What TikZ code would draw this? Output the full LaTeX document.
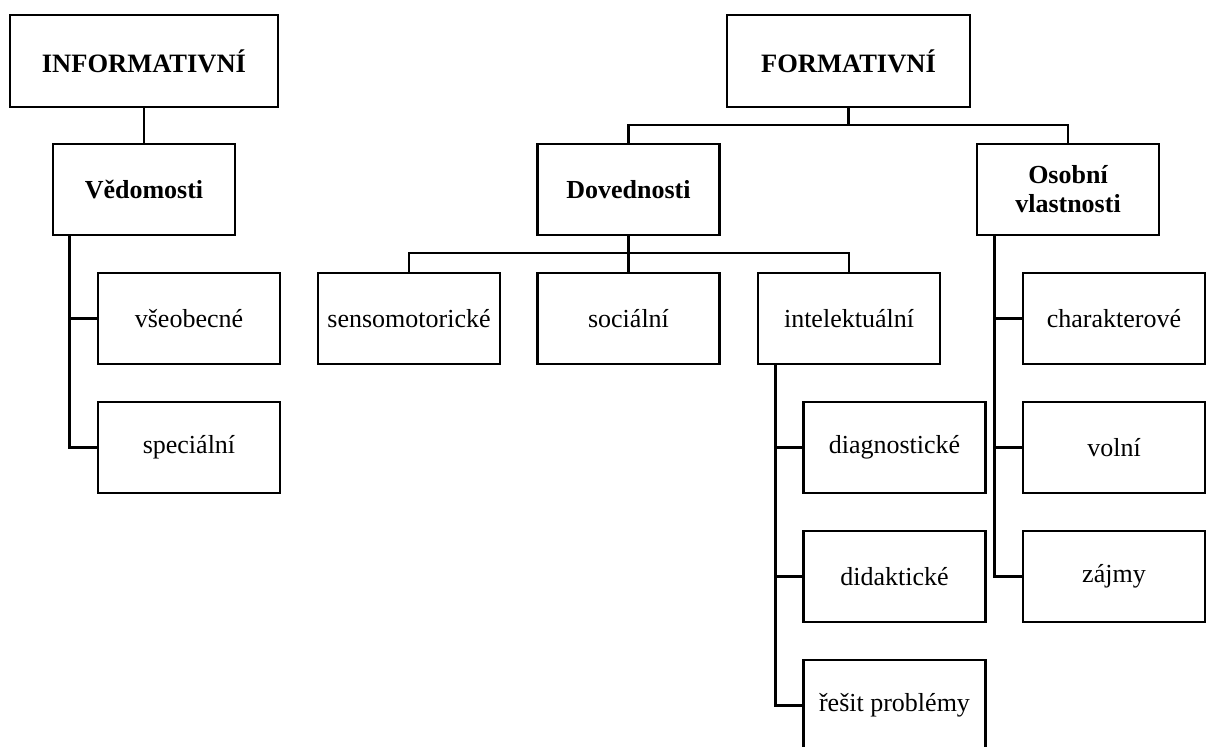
\documentclass[tikz,border=0pt]{standalone}
\usepackage{fontspec}
\setmainfont{Liberation Serif}
\begin{document}
\begin{tikzpicture}[x=1pt,y=-1pt,
  box/.style={draw,line width=2.8pt,rectangle,inner sep=0pt,minimum width=182pt,minimum height=91pt,align=center,font=\fontsize{26}{29}\selectfont},
  bigbox/.style={box,font=\fontsize{26.5}{29}\selectfont\bfseries,minimum height=92pt},
  boldbox/.style={box,font=\fontsize{26}{29}\selectfont\bfseries},
  conn/.style={line width=2.8pt}]
\clip (0,0) rectangle (1208,747);
\fill[white] (0,0) rectangle (1208,747);
\node[bigbox,minimum width=268pt] (inf) at (144,61) {INFORMATIVNÍ};
\node[bigbox,minimum width=243pt] (form) at (848.5,61) {FORMATIVNÍ};
\node[boldbox] (ved) at (144,189.5) {Vědomosti};
\node[boldbox] (dov) at (628.5,189.5) {Dovednosti};
\node[boldbox] (osob) at (1068,189.5) {Osobní\\vlastnosti};
\node[box] (vseob) at (189,318.5) {všeobecné};
\node[box] (spec) at (189,447.5) {speciální};
\node[box] (senso) at (409,318.5) {sensomotorické};
\node[box] (soc) at (628.5,318.5) {sociální};
\node[box] (intel) at (849,318.5) {intelektuální};
\node[box] (diag) at (894.5,447.5) {diagnostické};
\node[box] (didak) at (894.5,576.5) {didaktické};
\node[box] (resit) at (894.5,705.5) {řešit problémy};
\node[box] (char) at (1114,318.5) {charakterové};
\node[box] (voln) at (1114,447.5) {volní};
\node[box] (zajmy) at (1114,576.5) {zájmy};
\coordinate (fj) at (848.5,125);
\coordinate (dj) at (628.5,253);
\draw[conn] (inf.south) -- (ved.north);
\draw[conn] (form.south) -- (fj);
\draw[conn] (dov.north) |- (fj) -| (osob.north);
\draw[conn] (dov.south) -- (dj) -- (soc.north);
\draw[conn] (senso.north) |- (dj) -| (intel.north);
\draw[conn] ([xshift=18pt]ved.south west) |- (vseob.west);
\draw[conn] ([xshift=18pt]ved.south west) |- (spec.west);
\draw[conn] ([xshift=19pt]intel.south west) |- (diag.west);
\draw[conn] ([xshift=19pt]intel.south west) |- (didak.west);
\draw[conn] ([xshift=19pt]intel.south west) |- (resit.west);
\draw[conn] ([xshift=19pt]osob.south west) |- (char.west);
\draw[conn] ([xshift=19pt]osob.south west) |- (voln.west);
\draw[conn] ([xshift=19pt]osob.south west) |- (zajmy.west);
\end{tikzpicture}
\end{document}
